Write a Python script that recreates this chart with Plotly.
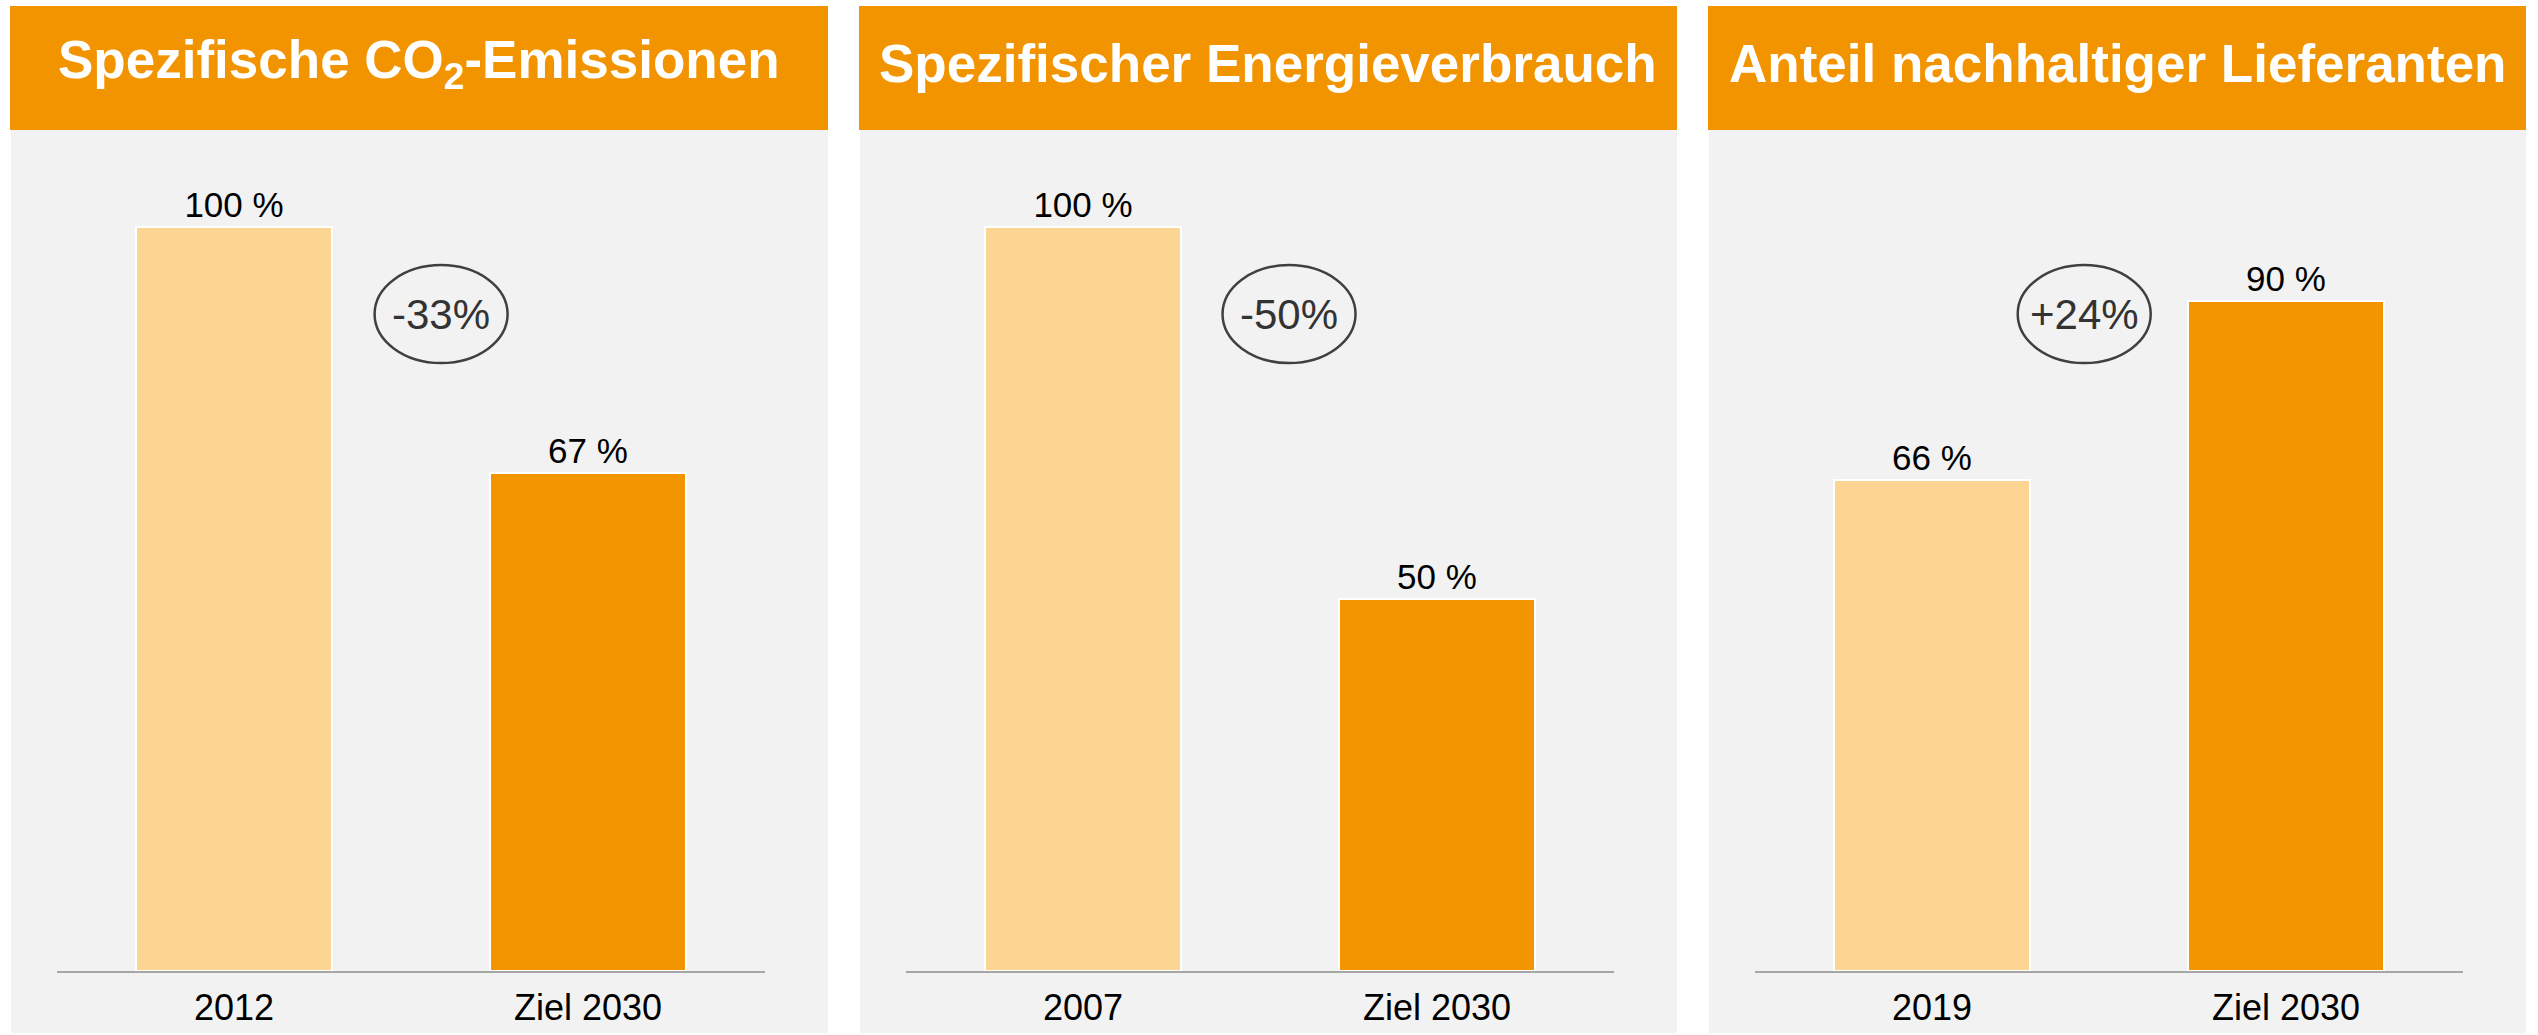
import plotly.graph_objects as go

# ---- data ----
titles = ["Spezifische CO<sub>2</sub>-Emissionen", "Spezifischer Energieverbrauch", "Anteil nachhaltiger Lieferanten"]
categories1 = ["2012", "Ziel 2030"]
values1 = [100, 67]
categories2 = ["2007", "Ziel 2030"]
values2 = [100, 50]
categories3 = ["2019", "Ziel 2030"]
values3 = [66, 90]
change_labels = ["-33%", "-50%", "+24%"]

W, H = 2538, 1035
FONT = "Liberation Sans, Arial, sans-serif"
LIGHT = "#FDD593"
DARK = "#F29500"
HEADER = "#F29400"
BG = "#F2F2F2"

def px(x):
    return x / W

def py(y):
    return 1 - y / H

fig = go.Figure()
panels = [(categories1, values1), (categories2, values2), (categories3, values3)]
step = 849
base_y = 971
top_y = 130
ppu = 7.44
ymax = (base_y - top_y) / ppu
ellipse_x = [0.585, 0.582, 0.43]
ellipse_y = 88.3
ell_w = 133 / 354
ell_h = 98 / ppu

shapes = []
annotations = []
for i, (cats, vals) in enumerate(panels):
    n = i + 1
    xa = "x" if n == 1 else f"x{n}"
    ya = "y" if n == 1 else f"y{n}"
    fig.add_trace(go.Bar(
        x=cats, y=vals, xaxis=xa, yaxis=ya,
        marker=dict(color=[LIGHT, DARK], line=dict(color="white", width=2)),
        width=0.554,
        text=[f"{v} %" for v in vals], textposition="outside",
        textfont=dict(family=FONT, size=35, color="black"),
        cliponaxis=False, showlegend=False, hoverinfo="skip",
    ))
    off = step * i
    xdom = [px(57 + off), px(765 + off)]
    ydom = [py(base_y), py(top_y)]
    fig.layout[f"xaxis{'' if n == 1 else n}"] = dict(
        domain=xdom, anchor=ya, type="category", range=[-0.5, 1.5],
        showline=True, linecolor="#A6A6A6", linewidth=2,
        showgrid=False, zeroline=False, ticks="",
        tickfont=dict(family=FONT, size=36, color="black"),
        ticklabelstandoff=4,
        fixedrange=True,
    )
    fig.layout[f"yaxis{'' if n == 1 else n}"] = dict(
        domain=ydom, anchor=xa, range=[0, ymax], visible=False,
        showgrid=False, zeroline=False, fixedrange=True,
    )
    # background panel
    shapes.append(dict(type="rect", xref="paper", yref="paper",
                       x0=px(11 + off), x1=px(828 + off), y0=py(1033), y1=py(130),
                       fillcolor=BG, line=dict(width=0), layer="below"))
    # header
    shapes.append(dict(type="rect", xref="paper", yref="paper",
                       x0=px(10 + off), x1=px(828 + off), y0=py(130), y1=py(6),
                       fillcolor=HEADER, line=dict(width=0), layer="below"))
    annotations.append(dict(xref="paper", yref="paper", x=px(419 + off), y=py(64),
                            xanchor="center", yanchor="middle", showarrow=False,
                            text=f"<b>{titles[i]}</b>",
                            font=dict(family=FONT, size=53, color="white")))
    # change ellipse
    shapes.append(dict(type="circle", xref=xa, yref=ya,
                       x0=ellipse_x[i] - ell_w / 2, x1=ellipse_x[i] + ell_w / 2,
                       y0=ellipse_y - ell_h / 2, y1=ellipse_y + ell_h / 2,
                       line=dict(color="#404040", width=2.5), layer="above"))
    annotations.append(dict(xref=xa, yref=ya, x=ellipse_x[i], y=ellipse_y,
                            xanchor="center", yanchor="middle", showarrow=False,
                            text=change_labels[i],
                            font=dict(family=FONT, size=42, color="#333333")))

fig.update_layout(
    width=W, height=H, margin=dict(l=0, r=0, t=0, b=0),
    paper_bgcolor="white", plot_bgcolor="rgba(0,0,0,0)",
    shapes=shapes, annotations=annotations, bargap=0,
)

fig.write_html("out.html", config={"displayModeBar": False},
               post_script="document.body.style.margin='0';")
